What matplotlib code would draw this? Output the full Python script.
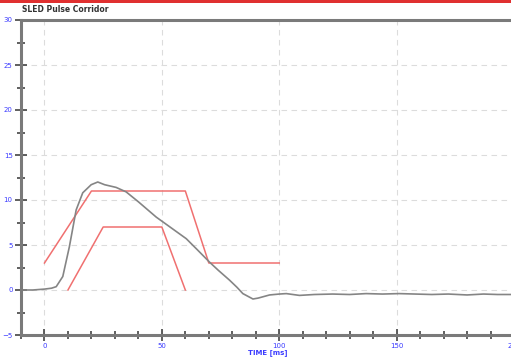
import matplotlib.pyplot as plt
from matplotlib.ticker import MultipleLocator
from matplotlib.patches import Rectangle

# Pulse trace (time in ms, value)
pulseTime = [-10, -5, 0, 3, 5, 7.8, 10.6, 13.5, 16.3, 19.9, 22.7, 25.6, 30.5, 34.8,
             40, 47.6, 54, 60.4, 65, 70.3, 74, 78.8, 82, 84.5, 88.8, 91, 95.9,
             100, 103, 108.6, 115, 122.7, 130, 137, 144, 151, 158, 165, 172, 180,
             187, 193, 200]
pulseValue = [0.0, 0.0, 0.1, 0.2, 0.37, 1.5, 4.8, 8.9, 10.8, 11.7, 12.0, 11.7, 11.4, 10.9,
              9.8, 8.1, 6.9, 5.7, 4.5, 3.1, 2.2, 1.1, 0.3, -0.4, -1.0, -0.9, -0.55,
              -0.45, -0.4, -0.6, -0.5, -0.45, -0.5, -0.4, -0.45, -0.4, -0.45, -0.5, -0.45, -0.55,
              -0.45, -0.5, -0.5]

# Corridor limits
upperTime = [0, 20, 60, 70, 100]
upperValue = [3, 11, 11, 3, 3]
lowerTime = [10, 25, 50, 60]
lowerValue = [0, 7, 7, 0]

title = "SLED Pulse Corridor"
xLabel = "TIME [ms]"

blue = "#3a3aff"
red = "#f07070"
axisGray = "#7a7a7a"

fig = plt.figure(figsize=(5.11, 3.58), dpi=100)
ax = fig.add_axes([21 / 511, 23 / 358, 493 / 511, 315 / 358])

ax.plot(upperTime, upperValue, color=red, lw=1.1)
ax.plot(lowerTime, lowerValue, color=red, lw=1.1)
ax.plot(pulseTime, pulseValue, color="#858585", lw=1.2)

ax.set_xlim(-10, 200)
ax.set_ylim(-5, 30)
ax.xaxis.set_major_locator(MultipleLocator(50))
ax.xaxis.set_minor_locator(MultipleLocator(10))
ax.yaxis.set_major_locator(MultipleLocator(5))
ax.yaxis.set_minor_locator(MultipleLocator(2.5))
ax.grid(which="major", color="#dcdcdc", linestyle=(0, (5, 4)), lw=0.8)

for side in ["left", "bottom", "top"]:
    ax.spines[side].set_color(axisGray)
    ax.spines[side].set_linewidth(2.2)
ax.spines["right"].set_visible(False)

ax.tick_params(which="major", direction="inout", length=8, width=1.2, color="#444444",
               labelsize=5, labelcolor=blue, pad=2)
ax.tick_params(which="minor", direction="inout", length=6, width=1.2, color="#444444")
ax.set_xlabel(xLabel, color=blue, fontsize=5, fontweight="bold", labelpad=0)

# red bar along the top edge and title
fig.add_artist(Rectangle((0, 1 - 3 / 358), 1, 3 / 358, transform=fig.transFigure,
                         color="#e03030", lw=0))
fig.text(22 / 511, 1 - 9 / 358, title, fontsize=5.5, fontweight="bold",
         color="#333333", va="center", ha="left")

fig.savefig("out.png", dpi=100)
